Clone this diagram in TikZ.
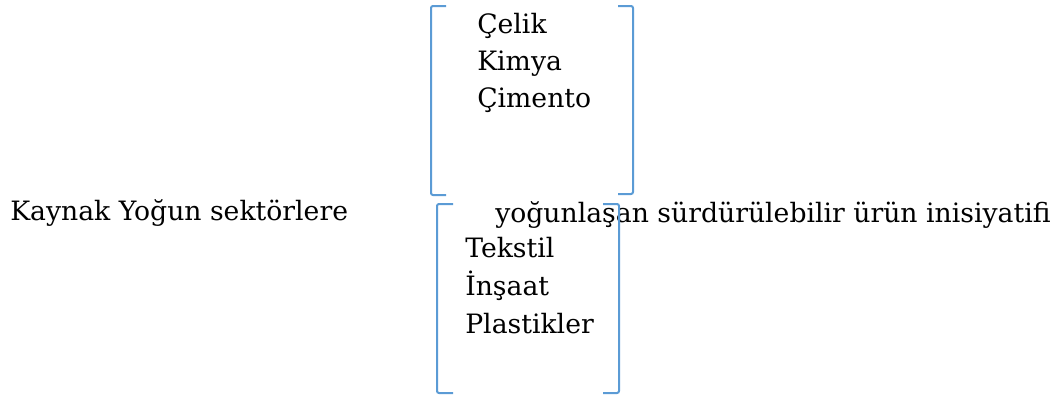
\documentclass[tikz,border=0pt]{standalone}
\usepackage{fontspec}
\setmainfont{DejaVu Serif}
\definecolor{brk}{HTML}{5B9BD5}
\begin{document}
\begin{tikzpicture}[x=0.75pt,y=-0.75pt,
  txt/.style={anchor=base west,inner sep=0pt,font=\fontsize{20}{24}\selectfont},
  brack/.style={draw=brk,line width=1.5pt,rounded corners=1.5pt}]
\useasboundingbox (0,0) rectangle (1060,396);
% top group
\node[txt] (celik) at (477,33) {Çelik};
\node[txt] (kimya) at (477,70) {Kimya};
\node[txt] (cimento) at (477,107) {Çimento};
\path[brack] (446,6) -- (431,6) -- (431,195) -- (446,195);
\path[brack] (618,6) -- (633,6) -- (633,194) -- (618,194);
% middle line
\node[txt] (kaynak) at (10,220) {Kaynak Yoğun sektörlere};
\node[txt] (yogun) at (495,222) {yoğunlaşan sürdürülebilir ürün inisiyatifi};
% bottom group
\node[txt] (tekstil) at (465,257) {Tekstil};
\node[txt] (insaat) at (465,295) {İnşaat};
\node[txt] (plastik) at (465,333) {Plastikler};
\path[brack] (453,204) -- (437,204) -- (437,393) -- (453,393);
\path[brack] (603,204) -- (619,204) -- (619,393) -- (603,393);
\end{tikzpicture}
\end{document}
